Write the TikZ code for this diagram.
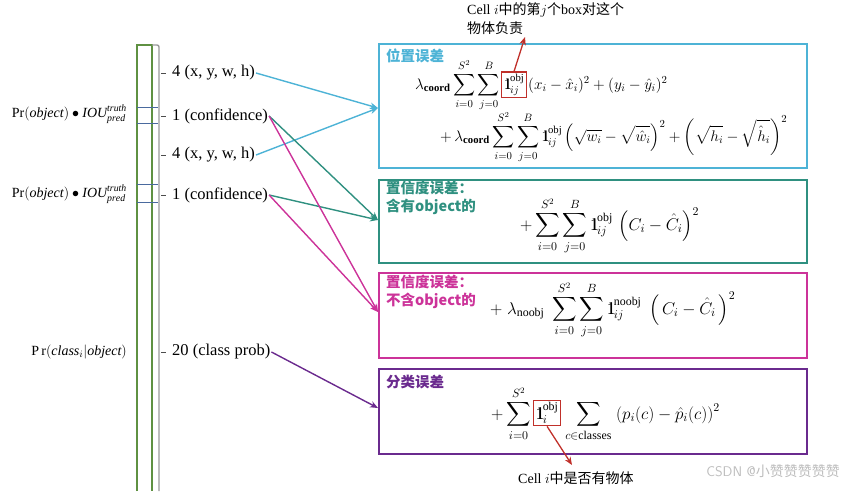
\RequirePackage{fix-cm}
\documentclass[tikz,border=0pt]{standalone}
\usepackage{amsmath,amssymb}
\usepackage{fontspec}
\setmainfont{Liberation Serif}
\newfontfamily\cjk{Noto Sans CJK SC}
\usetikzlibrary{arrows.meta,positioning,calc}
\definecolor{cyanc}{HTML}{4DB3D6}
\definecolor{tealc}{HTML}{2F9080}
\definecolor{magc}{HTML}{CC3399}
\definecolor{purc}{HTML}{6A2A8E}
\definecolor{redc}{HTML}{C0302A}
\definecolor{greenc}{HTML}{5F9142}
\definecolor{divc}{HTML}{4A6A9E}
\definecolor{grayc}{HTML}{9A9A9A}
\definecolor{wmc}{HTML}{BDBDBD}
\newcommand{\ind}{\mathrm{1}\mkern-6.5mu\mathrm{l}}
\begin{document}
\begin{tikzpicture}[x=1pt,y=-1pt,
  lbl/.style={anchor=west, inner sep=1pt, font=\fontsize{16.5}{18}\selectfont},
  lft/.style={anchor=east, inner sep=0pt, font=\fontsize{14}{16}\selectfont},
  lossbox/.style={draw=#1, line width=1.5pt, anchor=north west, minimum width=428pt, inner sep=0pt},
  ttl/.style={anchor=north west, inner sep=0pt, text=#1, font=\fontsize{14.5}{18}\selectfont\cjk\bfseries, align=left},
  eqa/.style={inner sep=0pt, font=\fontsize{15.3}{17}\selectfont},
  eq/.style={inner sep=0pt, font=\fontsize{17}{19}\selectfont},
  redbox/.style={draw=redc, line width=1.3pt, inner sep=2pt},
  arr/.style={line width=1.4pt, -{Stealth[length=8pt,width=6.5pt]}},
  ann/.style={inner sep=0pt, font=\fontsize{14}{19}\selectfont, align=left},
  tick/.style={line width=0.8pt, draw=black!70}
]
\useasboundingbox (0,0) rectangle (848,491);
% column
\draw[greenc, line width=1.2pt] (137,491) -- (137,45) -- (152,45) -- (152,491);
\draw[grayc, line width=1.4pt, rounded corners=2pt] (152,45) -| (159,491);
\foreach \yy in {107,123,184,202} \draw[divc, line width=1pt] (137,\yy) -- (158,\yy);
% ticks and labels
\foreach \yy in {73,116,155,195,352} \draw[tick] (161,\yy) -- (166,\yy);
\node[lbl] (l1) at (171,73) {4 (x, y, w, h)};
\node[lbl] (l2) at (171,116) {1 (confidence)};
\node[lbl] (l3) at (171,155) {4 (x, y, w, h)};
\node[lbl] (l4) at (171,195) {1 (confidence)};
\node[lbl] (l5) at (171,352) {20 (class prob)};
% left labels
\node[lft] (p1) at (127,114) {$\mathrm{Pr}(\mathit{object})\bullet \mathit{IOU}^{\mathit{truth}}_{\mathit{pred}}$};
\node[lft] (p2) at (127,194) {$\mathrm{Pr}(\mathit{object})\bullet \mathit{IOU}^{\mathit{truth}}_{\mathit{pred}}$};
\node[lft] (p3) at (127,352) {$\mathrm{P\,r}(\mathit{class}_i|\mathit{object})$};
% boxes
\node[lossbox=cyanc, minimum height=124pt] (b1) at (378,43) {};
\node[lossbox=tealc, minimum height=83pt] (b2) at (378,179) {};
\node[lossbox=magc, minimum height=85pt] (b3) at (378,272) {};
\node[lossbox=purc, minimum height=85pt] (b4) at (378,368) {};
% titles
\node[ttl=cyanc] (t1) at (386,49) {位置误差};
\node[ttl=tealc] (t2) at (386,181) {置信度误差：\\含有object的};
\node[ttl=magc] (t3) at (386,275) {置信度误差：\\不含object的};
\node[ttl=purc] (t4) at (386,375) {分类误差};
% equations box 1
\node[eqa, anchor=base west] (e1a) at (415,89) {$\lambda_{\textbf{coord}}\displaystyle\sum_{i=0}^{S^2}\sum_{j=0}^{B}$};
\node[redbox, eqa, inner sep=2pt, anchor=base west] (ind1) at ($(e1a.base east)+(1,0)$) {$\ind_{ij}^{\text{obj}}$};
\node[eqa, anchor=base west] (e1b) at ($(ind1.base east)+(1,0)$) {$(x_i-\hat{x}_i)^2+(y_i-\hat{y}_i)^2$};
\node[eqa, anchor=base west] (e1c) at (440,141) {$+\,\lambda_{\textbf{coord}}\displaystyle\sum_{i=0}^{S^2}\sum_{j=0}^{B}\ind_{ij}^{\text{obj}}\left(\sqrt{w_i}-\sqrt{\hat{w}_i}\right)^2+\left(\sqrt{h_i}-\sqrt{\hat{h}_i}\right)^2$};
% box 2
\node[eq, anchor=base west] (e2) at (520,230) {$+\displaystyle\sum_{i=0}^{S^2}\sum_{j=0}^{B}\ind_{ij}^{\text{obj}}\,\left(C_i-\hat{C}_i\right)^2$};
% box 3
\node[eq, anchor=base west] (e3) at (490,314) {$+\;\lambda_{\text{noobj}}\;\displaystyle\sum_{i=0}^{S^2}\sum_{j=0}^{B}\ind_{ij}^{\text{noobj}}\;\left(\,C_i-\hat{C}_i\,\right)^2$};
% box 4
\node[eq, anchor=base west] (e4a) at (491,419) {$+\displaystyle\sum_{i=0}^{S^2}$};
\node[redbox, eq, inner sep=2pt, anchor=base west] (ind2) at ($(e4a.base east)+(2,0)$) {$\ind_{i}^{\text{obj}}$};
\node[eq, anchor=base west] (e4b) at ($(ind2.base east)+(4,0)$) {$\displaystyle\sum_{c\in\text{classes}}\;(p_i(c)-\hat{p}_i(c))^2$};
% annotations
\node[ann, anchor=north west] (a1) at (467,2) {Cell $i${\cjk 中的第}$j${\cjk 个}box{\cjk 对这个}\\{\cjk 物体负责}};
\node[ann, anchor=north west] (a2) at (518,472) {Cell $i${\cjk 中是否有物体}};
\coordinate (a1e) at (525,37);
\coordinate (a2e) at (572,465);
\draw[redc, arr, line width=1.3pt] (ind1.north) -- (a1e);
\draw[redc, arr, line width=1.3pt] (ind2.south) -- (a2e);
% connectors
\coordinate (c1) at (378,108);
\coordinate (c2) at (378,220);
\coordinate (c3) at (378,312);
\coordinate (c4) at (378,408);
\draw[cyanc, arr] (l1.east) -- (c1);
\draw[cyanc, arr] (l3.east) -- (c1);
\draw[tealc, arr] (l2.east) -- (c2);
\draw[tealc, arr] (l4.east) -- (c2);
\draw[magc, arr] (l2.east) -- (c3);
\draw[magc, arr] (l4.east) -- (c3);
\draw[purc, arr] (l5.east) -- (c4);
% watermark
\node[inner sep=0pt, anchor=east, text=wmc, font=\fontsize{14}{16}\selectfont\sffamily] (wm) at (840,471) {CSDN @{\cjk 小赞赞赞赞赞}};
\end{tikzpicture}
\end{document}
